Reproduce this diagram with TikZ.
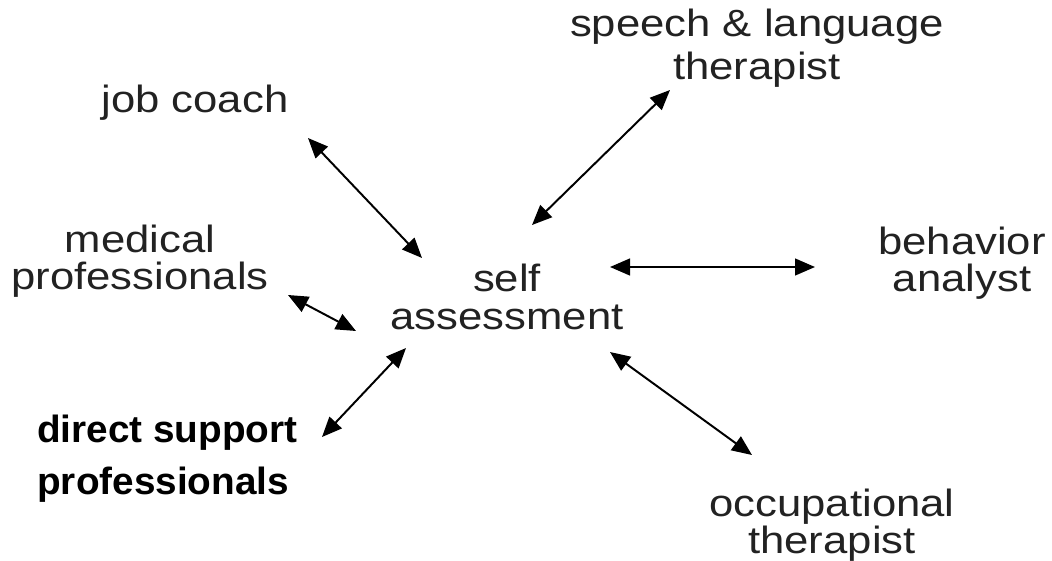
\documentclass[tikz,border=0pt]{standalone}
\usepackage{fontspec}
\setmainfont{Liberation Sans}[FakeStretch=1.15]
\newfontfamily\supportfont{Liberation Sans}[FakeStretch=1.02]
\usepackage{tikz}
\usetikzlibrary{positioning,arrows.meta}
\definecolor{labelcolor}{RGB}{34, 34, 34}
\tikzset{
    role/.style={align=center, inner sep=0pt, text=labelcolor, font=\fontsize{27}{26.5}\selectfont},
    center role/.style={role},
    support role/.style={align=left, inner sep=0pt, text=black, font=\supportfont\bfseries\fontsize{27}{37}\selectfont},
    link/.style={{Triangle[length=0.5cm, width=0.42cm]}-{Triangle[length=0.5cm, width=0.42cm]}, line width=1.4pt, black}
}
\begin{document}
\begin{tikzpicture}[x=0.025cm, y=-0.025cm]
\useasboundingbox (0,0) rectangle (1052,560);
% people round the self assessment
\node[center role] (self) at (507,297) {self\\assessment};
\node[role] (job) at (195,103) {job coach};
\node[role, font=\fontsize{27}{31}\selectfont] (speech) at (757,48) {speech \& language\\therapist};
\node[role] (medical) at (140,261) {medical\\professionals};
\node[role] (behavior) at (962,263) {behavior\\analyst};
\node[role] (occupational) at (832,525) {occupational\\therapist};
\node[support role, anchor=north west] (support) at (37,415) {direct support\\professionals};
% arrow ends
\coordinate (job-a) at (308,138);   \coordinate (job-b) at (422,258);
\coordinate (speech-a) at (670,90); \coordinate (speech-b) at (532,225);
\coordinate (behavior-a) at (815,267); \coordinate (behavior-b) at (610,267);
\coordinate (occ-a) at (752,455);   \coordinate (occ-b) at (610,352);
\coordinate (med-a) at (288,295);   \coordinate (med-b) at (356,331);
\coordinate (sup-a) at (322,437);   \coordinate (sup-b) at (406,348);
\draw[link] (job-a) -- (job-b);
\draw[link] (speech-a) -- (speech-b);
\draw[link] (behavior-b) -- (behavior-a);
\draw[link] (occ-b) -- (occ-a);
\draw[link] (med-a) -- (med-b);
\draw[link] (sup-a) -- (sup-b);
\end{tikzpicture}
\end{document}
